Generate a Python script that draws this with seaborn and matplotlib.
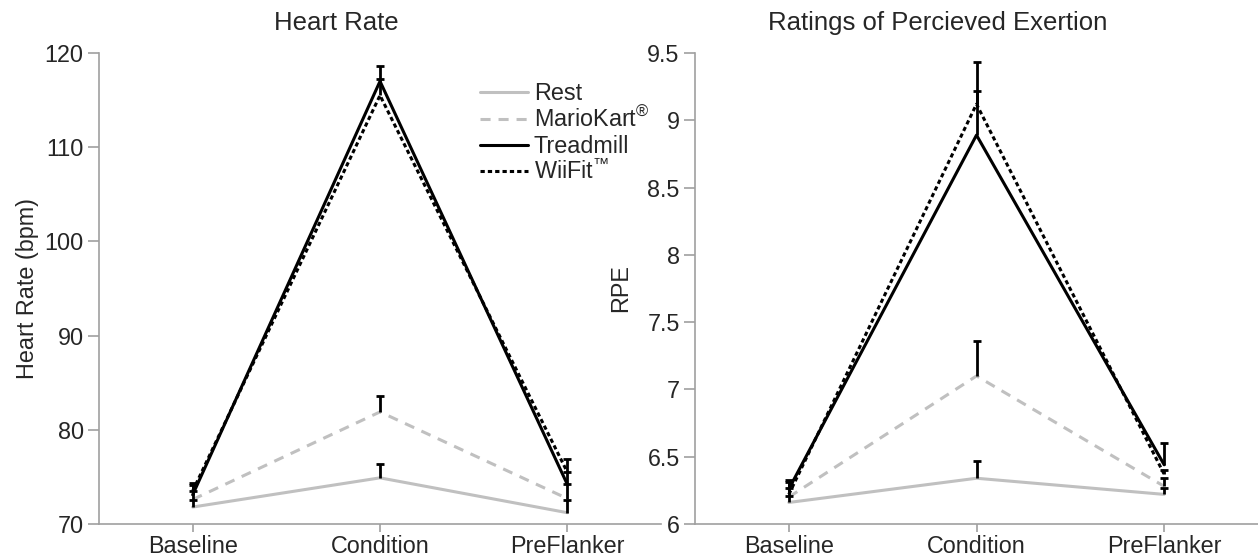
import numpy as np
import pandas as pd
import matplotlib
matplotlib.use("Agg")
import matplotlib.pyplot as plt
import seaborn as sns
from matplotlib.lines import Line2D
from matplotlib.ticker import FuncFormatter

# ---------------- data ----------------
phases = ["Baseline", "Condition", "PreFlanker"]
conditions = ["Rest", "MarioKart", "Treadmill", "WiiFit"]
legend_labels = ["Rest", r"MarioKart$^{\mathrm{®}}$", "Treadmill", r"WiiFit$^{\mathrm{™}}$"]

# Heart rate (bpm) means and upper error bars
hr_rest = [71.8, 74.9, 71.2]
hr_mario = [72.6, 81.9, 72.7]
hr_tread = [73.1, 117.0, 74.2]
hr_wii = [73.5, 115.5, 75.5]
hr_rest_err = [0.8, 1.5, 1.3]
hr_mario_err = [0.9, 1.7, 1.5]
hr_tread_err = [1.0, 1.6, 1.3]
hr_wii_err = [0.9, 1.7, 1.4]

# Ratings of perceived exertion means and upper error bars
rpe_rest = [6.16, 6.34, 6.22]
rpe_mario = [6.20, 7.10, 6.28]
rpe_tread = [6.26, 8.89, 6.44]
rpe_wii = [6.22, 9.12, 6.37]
rpe_rest_err = [0.05, 0.13, 0.05]
rpe_mario_err = [0.07, 0.26, 0.06]
rpe_tread_err = [0.07, 0.33, 0.16]
rpe_wii_err = [0.09, 0.31, 0.03]

hr_ticks = [70, 80, 90, 100, 110, 120]
rpe_ticks = [6, 6.5, 7, 7.5, 8, 8.5, 9, 9.5]

# ---------------- style ----------------
sns.set_style("white")
plt.rcParams["font.family"] = ["Liberation Sans", "DejaVu Sans"]
plt.rcParams["mathtext.fontset"] = "custom"
plt.rcParams["mathtext.rm"] = "Liberation Sans"
plt.rcParams["mathtext.it"] = "Liberation Sans"
plt.rcParams["mathtext.bf"] = "Liberation Sans"

FS = 16.8
TFS = 18.5
GRAY_LINE = "#c0c0c0"
SPINE = "#a0a0a0"

palette = {"Rest": GRAY_LINE, "MarioKart": GRAY_LINE, "Treadmill": "black", "WiiFit": "black"}
dashes = {"Rest": "", "MarioKart": (3.3, 2.6), "Treadmill": "", "WiiFit": (1.4, 1.0)}
LW = 2.2


def long_df(series):
    rows = []
    for cond, vals in zip(conditions, series):
        for i, (ph, v) in enumerate(zip(phases, vals)):
            rows.append({"pos": i, "phase": ph, "condition": cond, "value": v})
    return pd.DataFrame(rows)


fig = plt.figure(figsize=(12.58, 5.58), dpi=100)
ax1 = fig.add_axes([99 / 1258, 34 / 558, 562 / 1258, 471 / 558])
ax2 = fig.add_axes([695 / 1258, 34 / 558, 563 / 1258, 471 / 558])

panels = [
    (ax1, [hr_rest, hr_mario, hr_tread, hr_wii],
     [hr_rest_err, hr_mario_err, hr_tread_err, hr_wii_err], hr_ticks, "Heart Rate (bpm)"),
    (ax2, [rpe_rest, rpe_mario, rpe_tread, rpe_wii],
     [rpe_rest_err, rpe_mario_err, rpe_tread_err, rpe_wii_err], rpe_ticks, "RPE"),
]

for ax, series, errs, ticks, ylab in panels:
    df = long_df(series)
    sns.lineplot(data=df, x="pos", y="value", hue="condition", style="condition",
                 hue_order=conditions, style_order=conditions, palette=palette,
                 dashes=dashes, linewidth=LW, errorbar=None, legend=False,
                 sort=False, ax=ax, zorder=2)
    for vals, err in zip(series, errs):
        eb = ax.errorbar(range(len(phases)), vals, yerr=[np.zeros(len(err)), err], fmt="none",
                         ecolor="black", elinewidth=2, capsize=3, capthick=2, zorder=3)
        # only the upper caps are shown (one-sided error bars)
        eb[1][0].set_visible(False)
    ax.set_xlim(-0.5, 2.5)
    ax.set_ylim(ticks[0], ticks[-1])
    ax.set_xticks(range(len(phases)))
    ax.set_xticklabels(phases, fontsize=FS)
    ax.set_yticks(ticks)
    ax.yaxis.set_major_formatter(FuncFormatter(lambda v, p: f"{v:g}"))
    ax.tick_params(axis="y", labelsize=FS, direction="out", length=8, width=1.2,
                   color=SPINE, pad=3, left=True)
    ax.tick_params(axis="x", labelsize=FS, direction="out", length=6, width=1.2,
                   color=SPINE, pad=2, bottom=True)
    for s in ["top", "right"]:
        ax.spines[s].set_visible(False)
    for s in ["left", "bottom"]:
        ax.spines[s].set_color(SPINE)
        ax.spines[s].set_linewidth(1.2)
    ax.set_xlabel("")
    ax.set_ylabel(ylab, fontsize=FS)
    ax.patch.set_alpha(0)

ax1.yaxis.set_label_coords(-0.107, 0.5)
ax2.yaxis.set_label_coords(-0.112, 0.5)

fig.text(336 / 1258, 1 - 23 / 558, "Heart Rate", ha="center", va="center", fontsize=TFS)
fig.text(938 / 1258, 1 - 23 / 558, "Ratings of Percieved Exertion", ha="center", va="center", fontsize=TFS)

handles = [Line2D([0], [0], color=palette[c], lw=LW,
                  dashes=(dashes[c] if dashes[c] else (None, None))) for c in conditions]
handles[0].set_linestyle("-")
handles[2].set_linestyle("-")
ax1.legend(handles, legend_labels, loc="upper left",
           bbox_to_anchor=(480 / 1258, 1 - 82 / 558), bbox_transform=fig.transFigure,
           frameon=False, borderpad=0, borderaxespad=0, handlelength=2.05,
           handletextpad=0.25, labelspacing=0.1, fontsize=FS)

fig.savefig("out.png", dpi=100)
